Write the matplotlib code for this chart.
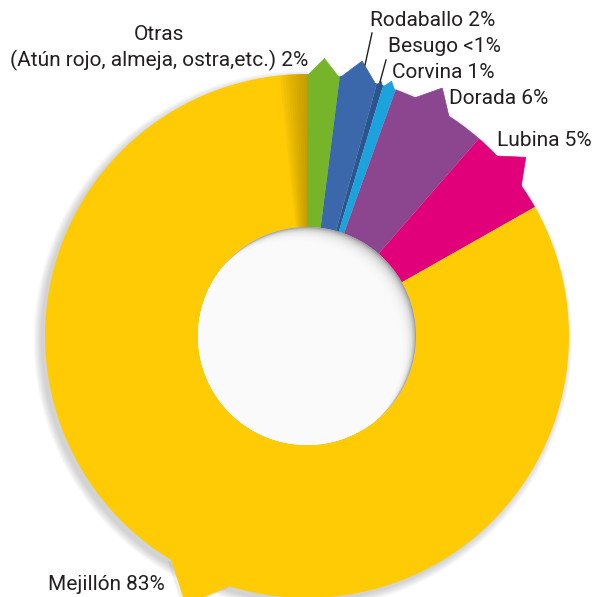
import numpy as np
import matplotlib
matplotlib.use("Agg")
import matplotlib.pyplot as plt
from matplotlib.patches import Polygon, Circle, Wedge

# shares (clockwise from 12 o'clock)
species = ["Otras", "Rodaballo", "Besugo", "Corvina", "Dorada", "Lubina", "Mejillón"]
shares = [2.0, 2.3, 0.4, 0.8, 5.9, 5.4, 83.2]
labels = ["Otras\n(Atún rojo, almeja, ostra,etc.) 2%", "Rodaballo 2%", "Besugo <1%",
          "Corvina 1%", "Dorada 6%", "Lubina 5%", "Mejillón 83%"]
colors = ["#76b52a", "#3a68aa", "#2a5590", "#1aa3dc", "#8c468f", "#e2007a", "#ffcb05"]

W, H = 594, 597
cx, cy = 307, H - 336
R, r_in = 262, 109

fig = plt.figure(figsize=(W / 100, H / 100), dpi=100)
ax = fig.add_axes([0, 0, 1, 1])

# soft drop shadow under the ring
for k in range(7):
    ax.add_patch(Circle((cx - 4, cy - 4), R + 1.2 * k, facecolor="#777777",
                        edgecolor="none", alpha=0.05, zorder=0))

wedges, _ = ax.pie(shares, colors=colors, startangle=90, counterclock=False,
                   radius=R, center=(cx, cy),
                   wedgeprops=dict(width=R - r_in, linewidth=0))

# pointed tips on the outer edge of each wedge
tip_shift = [0, 0, 0, 0, 1.8, 0, 6.0]
for w, col, sh in zip(wedges, colors, tip_shift):
    t1, t2 = w.theta1, w.theta2
    mid = (t1 + t2) / 2 + sh
    hw = min(4.6, (t2 - t1) / 2) if (t2 - t1) < 100 else 7.4
    rt = R * (1 + 0.017 * hw)
    a0, a1, am = np.radians([mid - hw, mid + hw, mid])
    pts = [(cx + (R - 2) * np.cos(a0), cy + (R - 2) * np.sin(a0)),
           (cx + rt * np.cos(am), cy + rt * np.sin(am)),
           (cx + (R - 2) * np.cos(a1), cy + (R - 2) * np.sin(a1))]
    ax.add_patch(Polygon(pts, closed=True, facecolor=col, edgecolor=col,
                         linewidth=0.5, zorder=1.5))
    ax.add_patch(Polygon([(x - 3, y - 3) for x, y in pts], closed=True,
                         facecolor="#777777", edgecolor="none", alpha=0.12, zorder=0))

# darker fold of the big wedge next to the small ones
top = wedges[0].theta2
for k in range(10):
    ax.add_patch(Wedge((cx, cy), R, top, top + 0.6 * (k + 1), width=R - r_in,
                       facecolor="#8a6a00", edgecolor="none", alpha=0.055, zorder=1.6))

# shaded hole
hole = Circle((cx, cy), r_in, facecolor="#9c9c9c", edgecolor="none", zorder=3)
ax.add_patch(hole)
for k in range(22):
    s = 0.6 + 0.8 * k
    c = Circle((cx - s, cy - s), r_in, facecolor="white",
               edgecolor="none", alpha=0.2, zorder=3.1 + k * 0.01)
    ax.add_patch(c)
    c.set_clip_path(hole)

# labels
txt = dict(fontsize=15, color="#231f20", family="Roboto", zorder=5)
lab_pos = [(159, 48), (433, 21), (444, 47), (443, 73), (499, 99), (544, 141), (106, 585)]
for lab, (x, y) in zip(labels, lab_pos):
    ax.text(x, H - y, lab, ha="center", va="center", linespacing=1.3, **txt)

ax.plot([372, 365], [H - 33, H - 65], color="#231f20", lw=1, zorder=5)
ax.plot([386, 380], [H - 60, H - 82], color="#231f20", lw=1, zorder=5)

ax.set_xlim(0, W)
ax.set_ylim(0, H)
ax.set_aspect("auto")
ax.axis("off")
fig.savefig("out.png", dpi=100)
